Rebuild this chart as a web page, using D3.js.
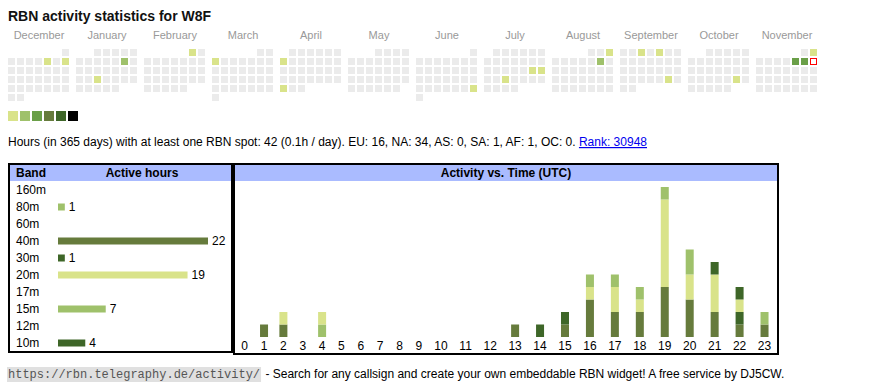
<!DOCTYPE html>
<html><head><meta charset="utf-8">
<script src="https://cdn.jsdelivr.net/npm/d3@7"></script>
<style>
body{margin:0;background:#fff;}
text{font-family:"Liberation Sans",Arial,sans-serif;}
</style></head>
<body><svg id="c" width="870" height="390"></svg>
<script>
// ---------- data ----------
const title = "RBN activity statistics for W8F";
const monthNames = ["December","January","February","March","April","May","June","July","August","September","October","November"];
const monthStarts = ["2024-12-01","2025-01-01","2025-02-01","2025-03-01","2025-04-01","2025-05-01","2025-06-01","2025-07-01","2025-08-01","2025-09-01","2025-10-01","2025-11-01"];
const activeDates = ["2024-12-06","2024-12-08","2025-01-11","2025-01-22","2025-02-01","2025-03-03","2025-04-07","2025-04-28","2025-06-29","2025-07-19","2025-07-20","2025-07-23","2025-08-03","2025-08-09","2025-09-03","2025-09-05","2025-09-27","2025-10-25","2025-11-02","2025-11-07","2025-11-08"];
const activeHours = [1,1,2,1,1,1,1,1,1,1,1,1,1,2,1,1,1,1,1,10,11];
const today = "2025-11-09";
const levelThresholds = [2,4,12,18,24];
const levelColors = ["#d9e38a","#9fc16b","#6a9f48","#667b3c","#3e6628","#000000"];

const infoText = "Hours (in 365 days) with at least one RBN spot: 42 (0.1h / day). EU: 16, NA: 34, AS: 0, SA: 1, AF: 1, OC: 0. ";
const rankText = "Rank: 30948";

const bands = ["160m","80m","60m","40m","30m","20m","17m","15m","12m","10m"];
const bandColors = ["#3e6628","#9fc16b","#6a9f48","#667b3c","#3e6628","#d9e38a","#6a9f48","#9fc16b","#667b3c","#3e6628"];
const hours = d3.range(24);
// active hours per band per UTC hour (0..23)
const h160 = [0,0,0,0,0,0,0,0,0,0,0,0,0,0,0,0,0,0,0,0,0,0,0,0];
const h80  = [0,0,0,0,1,0,0,0,0,0,0,0,0,0,0,0,0,0,0,0,0,0,0,0];
const h60  = [0,0,0,0,0,0,0,0,0,0,0,0,0,0,0,0,0,0,0,0,0,0,0,0];
const h40  = [0,1,1,0,0,0,0,0,0,0,0,0,0,1,0,1,3,2,2,4,3,2,1,1];
const h30  = [0,0,0,0,0,0,0,0,0,0,0,0,0,0,0,0,0,0,0,0,0,0,1,0];
const h20  = [0,0,1,0,1,0,0,0,0,0,0,0,0,0,0,0,1,2,1,7,2,3,1,0];
const h17  = [0,0,0,0,0,0,0,0,0,0,0,0,0,0,0,0,0,0,0,0,0,0,0,0];
const h15  = [0,0,0,0,0,0,0,0,0,0,0,0,0,0,0,0,1,1,1,1,2,0,0,1];
const h12  = [0,0,0,0,0,0,0,0,0,0,0,0,0,0,0,0,0,0,0,0,0,0,0,0];
const h10  = [0,0,0,0,0,0,0,0,0,0,0,0,0,0,1,1,0,0,0,0,0,1,1,0];
const footerUrl = "https://rbn.telegraphy.de/activity/";
const footerText = " - Search for any callsign and create your own embeddable RBN widget! A free service by DJ5CW.";

// ---------- drawing ----------
const svg = d3.select("#c");
const bandHours = [h160,h80,h60,h40,h30,h20,h17,h15,h12,h10];
const bandTotals = bandHours.map(a => d3.sum(a));
const FS = "12px";

svg.append("text").attr("x",8).attr("y",21).attr("font-size","14px").attr("font-weight","bold").attr("fill","#111").text(title);

// calendar heatmap
const parse = d3.utcParse("%Y-%m-%d");
const fmt = d3.utcFormat("%Y-%m-%d");
const hourByDate = new Map(activeDates.map((d,i)=>[d, activeHours[i]]));
const color = d3.scaleThreshold().domain(levelThresholds).range(levelColors);
const monthX = d3.scaleBand().domain(monthNames).range([8, 8+68*12]).paddingInner(0);
const cell = 9, cs = 7, top0 = 49;
monthNames.forEach((m,mi)=>{
  const x0 = monthX(m);
  svg.append("text").attr("x",x0+31).attr("y",39).attr("text-anchor","middle").attr("font-size","11px").attr("fill","#999").text(m);
  const start = parse(monthStarts[mi]);
  const end = d3.utcMonth.offset(start,1);
  const days = d3.utcDays(start,end);
  const firstDow = (start.getUTCDay()+6)%7;
  days.forEach(d=>{
    const dom = d.getUTCDate();
    const dow = (d.getUTCDay()+6)%7;
    const row = Math.floor((dom-1+firstDow)/7);
    const key = fmt(d);
    const v = hourByDate.get(key);
    const r = svg.append("rect").attr("x",x0+dow*cell).attr("y",top0+row*cell).attr("width",cs).attr("height",cs);
    if (key===today) r.attr("x",x0+dow*cell+0.5).attr("y",top0+row*cell+0.5).attr("width",cs-1).attr("height",cs-1).attr("fill","#fff").attr("stroke","#f00").attr("stroke-width",1);
    else r.attr("fill", v ? color(v) : "#ebebeb");
  });
});
// legend
svg.selectAll("rect.leg").data(levelColors).join("rect").attr("class","leg")
  .attr("x",(d,i)=>8+i*12).attr("y",111).attr("width",10).attr("height",10).attr("fill",d=>d);

// info text
const info = svg.append("text").attr("x",8).attr("y",146).attr("font-size",FS).attr("fill","#000");
info.append("tspan").text(infoText);
info.append("tspan").attr("fill","#0000ee").attr("text-decoration","underline").text(rankText);

// band table
svg.append("rect").attr("x",9).attr("y",164).attr("width",223).attr("height",188).attr("fill","#fff").attr("stroke","#000").attr("stroke-width",2);
svg.append("rect").attr("x",10).attr("y",165).attr("width",221).attr("height",16).attr("fill","#aabbff");
svg.append("text").attr("x",16).attr("y",177).attr("font-size",FS).attr("font-weight","bold").text("Band");
svg.append("text").attr("x",142).attr("y",177).attr("text-anchor","middle").attr("font-size",FS).attr("font-weight","bold").text("Active hours");
const rowY = d3.scaleBand().domain(bands).range([181, 351]);
const bx = d3.scaleLinear().domain([0, d3.max(bandTotals)]).range([0,150]);
bands.forEach((b,i)=>{
  const cy = rowY(b)+rowY.bandwidth()/2 + 0.5;
  svg.append("text").attr("x",16).attr("y",cy+4).attr("font-size",FS).text(b);
  if (bandTotals[i]>0){
    svg.append("rect").attr("x",58).attr("y",cy-3.5).attr("width",bx(bandTotals[i])).attr("height",7).attr("fill",bandColors[i]);
    svg.append("text").attr("x",58+bx(bandTotals[i])+4).attr("y",cy+4).attr("font-size",FS).text(bandTotals[i]);
  }
});

// activity vs time
svg.append("rect").attr("x",234).attr("y",164).attr("width",544).attr("height",190).attr("fill","#fff").attr("stroke","#000").attr("stroke-width",2);
svg.append("rect").attr("x",235).attr("y",165).attr("width",542).attr("height",16).attr("fill","#aabbff");
svg.append("text").attr("x",506).attr("y",177).attr("text-anchor","middle").attr("font-size",FS).attr("font-weight","bold").text("Activity vs. Time (UTC)");

// column widths like an auto-layout table
const tmp = svg.append("text").attr("font-size",FS);
const tw = hours.map(h=>{ tmp.text(String(h)); return tmp.node().getComputedTextLength(); });
tmp.remove();
const innerL = 235, innerW = 542;
const rawW = tw.map(w => 13.8 + 0.84*w);
const k = innerW / d3.sum(rawW);
const colW = rawW.map(w => w*k);
const cum = d3.cumsum(colW);
const xCenter = d3.scaleOrdinal().domain(hours).range(hours.map(h => innerL + cum[h] - colW[h]/2));
const totals = hours.map(h => d3.sum(bandHours, a=>a[h]));
const y = d3.scaleLinear().domain([0, d3.max(totals)]).range([337, 187]);
const stackData = hours.map(h => { const o = {hour:h}; bands.forEach((b,i)=>o[b]=bandHours[i][h]); return o; });
const series = d3.stack().keys(bands)(stackData);
series.forEach((s,i)=>{
  svg.append("g").selectAll("rect").data(s.filter(d=>d[1]>d[0])).join("rect")
    .attr("x",d=>xCenter(d.data.hour)-4).attr("width",8)
    .attr("y",d=>y(d[1])).attr("height",d=>y(d[0])-y(d[1]))
    .attr("fill",bandColors[i]);
});
svg.append("g").selectAll("text").data(hours).join("text")
  .attr("x",h=>xCenter(h)).attr("y",350).attr("text-anchor","middle").attr("font-size",FS).text(h=>h);

// footer
const fu = svg.append("text").attr("x",8).attr("y",378).attr("font-size","12px").attr("fill","#555").style("font-family","'Liberation Mono',monospace").text(footerUrl);
const fw = fu.node().getComputedTextLength();
svg.insert("rect","text").attr("x",7).attr("y",367).attr("width",fw+2).attr("height",15).attr("fill","#e0e0e0");
svg.append("text").attr("x",8+fw+2).attr("y",378).attr("font-size",FS).attr("fill","#000").style("white-space","pre").text(footerText);
</script></body></html>
